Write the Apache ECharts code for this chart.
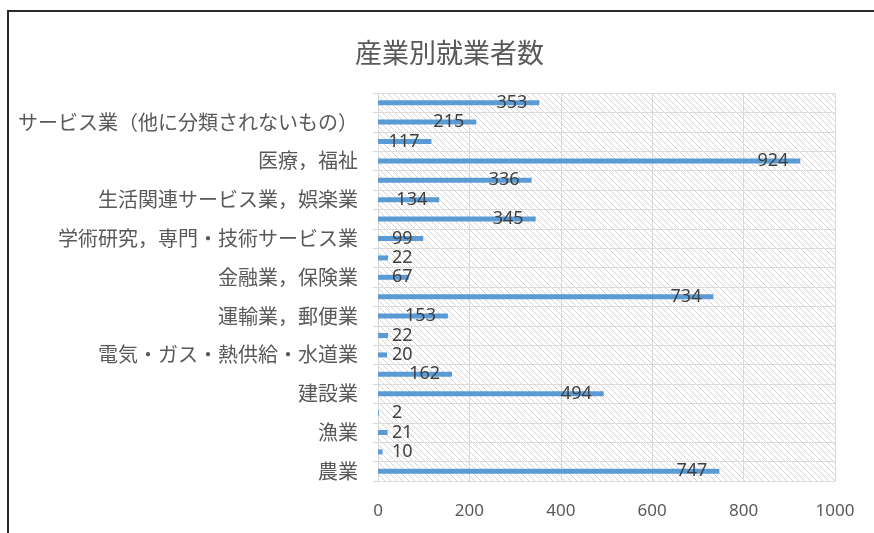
<!DOCTYPE html>
<html>
<head>
<meta charset="utf-8">
<script src="https://cdn.jsdelivr.net/npm/echarts@6/dist/echarts.min.js"></script>
<style>
html,body{margin:0;padding:0;background:#fff;}
#chart{width:874px;height:533px;}
</style>
</head>
<body>
<div id="chart"></div>
<script>
const titleText = '産業別就業者数';
const categories = [
  '農業', '林業', '漁業', '鉱業，採石業，砂利採取業', '建設業', '製造業',
  '電気・ガス・熱供給・水道業', '情報通信業', '運輸業，郵便業', '卸売業，小売業',
  '金融業，保険業', '不動産業，物品賃貸業', '学術研究，専門・技術サービス業',
  '宿泊業，飲食サービス業', '生活関連サービス業，娯楽業', '教育，学習支援業',
  '医療，福祉', '複合サービス事業', 'サービス業（他に分類されないもの）',
  '公務（他に分類されるものを除く）'
];
const values = [747, 10, 21, 2, 494, 162, 20, 22, 153, 734, 67, 22, 99, 345, 134, 336, 924, 117, 215, 353];
const xTicks = { min: 0, max: 1000, interval: 200 };

// diagonal hatch pattern for plot background
const pc = document.createElement('canvas');
pc.width = 6; pc.height = 6;
const g = pc.getContext('2d');
g.fillStyle = '#ffffff';
g.fillRect(0, 0, 6, 6);
g.strokeStyle = '#d4d4d4';
g.lineWidth = 1;
g.beginPath();
g.moveTo(-1, -1); g.lineTo(7, 7);
g.moveTo(-1, 5); g.lineTo(1, 7);
g.moveTo(5, -1); g.lineTo(7, 1);
g.stroke();

const seriesData = values.map(v => ({
  value: v,
  label: v < 100 ? { position: 'insideLeft', distance: 14 } : { position: 'insideRight', distance: 12 }
}));

const chart = echarts.init(document.getElementById('chart'), null, { renderer: 'canvas' });
chart.setOption({
  animation: false,
  backgroundColor: '#ffffff',
  textStyle: { fontFamily: '"Noto Sans CJK JP", "Noto Sans", sans-serif' },
  title: {
    text: titleText,
    left: 350,
    top: 34,
    textStyle: { fontSize: 27, fontWeight: 'normal', color: '#595959', fontFamily: '"Noto Sans CJK JP", sans-serif' }
  },
  graphic: [{
    type: 'rect',
    shape: { x: 8, y: 11, width: 900, height: 600 },
    style: { fill: null, stroke: '#2b2b2b', lineWidth: 2 },
    silent: true,
    z: 100
  }],
  grid: {
    left: 378, right: 39, top: 93, bottom: 52,
    show: true,
    backgroundColor: { image: pc, repeat: 'repeat' },
    borderWidth: 0
  },
  xAxis: {
    type: 'value',
    min: xTicks.min, max: xTicks.max, interval: xTicks.interval,
    axisLine: { show: false },
    axisTick: { show: false },
    splitLine: { show: true, lineStyle: { color: '#d9d9d9', width: 1 } },
    axisLabel: { color: '#595959', fontSize: 17, margin: 22, formatter: v => String(v), fontFamily: '"Noto Sans", sans-serif' }
  },
  yAxis: {
    type: 'category',
    data: categories,
    axisLine: { show: true, lineStyle: { color: '#d9d9d9' } },
    axisTick: { show: true, length: 5, interval: 0, lineStyle: { color: '#d9d9d9' } },
    splitLine: { show: true, interval: 0, lineStyle: { color: '#dcdcdc', width: 1 } },
    axisLabel: { interval: 1, color: '#595959', fontSize: 20, margin: 20, fontFamily: '"Noto Sans CJK JP", sans-serif' }
  },
  series: [{
    type: 'bar',
    data: seriesData,
    barWidth: 5,
    itemStyle: { color: '#5b9bd5' },
    label: {
      show: true,
      color: '#404040',
      fontSize: 18,
      fontFamily: '"Noto Sans", sans-serif'
    }
  }]
});
</script>
</body>
</html>
